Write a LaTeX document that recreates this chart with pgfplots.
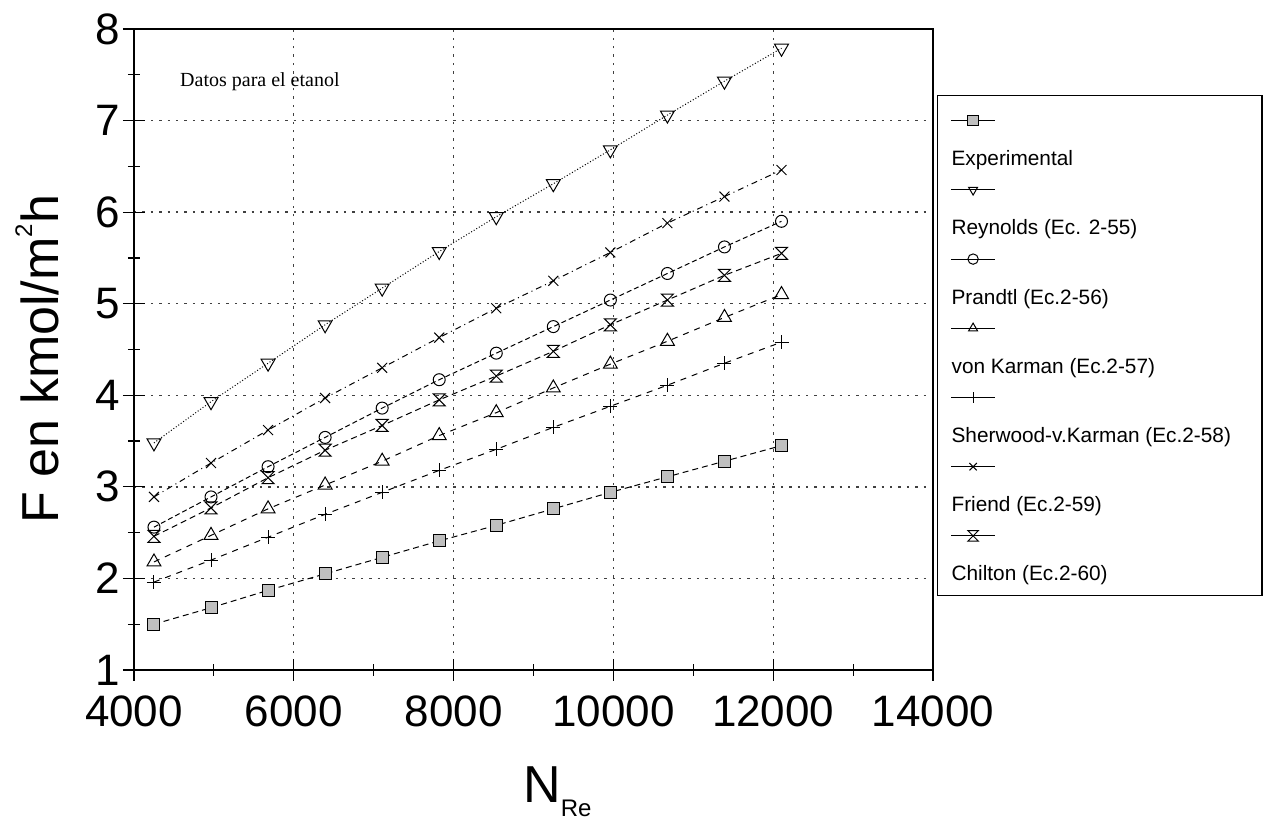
\documentclass[border=0pt]{standalone}
\usepackage{fontspec}
\setmainfont{Liberation Sans}
\newfontfamily\timesfont{Liberation Serif}
\usepackage{pgfplots}
\usepackage{pgfplotstable}
\pgfplotsset{compat=1.18}

% hourglass mark for Chilton
\pgfdeclareplotmark{hourglass}{%
  \pgfpathmoveto{\pgfqpoint{-\pgfplotmarksize}{\pgfplotmarksize}}%
  \pgfpathlineto{\pgfqpoint{\pgfplotmarksize}{\pgfplotmarksize}}%
  \pgfpathlineto{\pgfqpoint{-\pgfplotmarksize}{-\pgfplotmarksize}}%
  \pgfpathlineto{\pgfqpoint{\pgfplotmarksize}{-\pgfplotmarksize}}%
  \pgfpathclose
  \pgfusepathqstroke}

\pgfplotstableread{
x     exp  rey  pra  vk   sh   fr   ch
4250  1.50 3.48 2.56 2.18 1.96 2.89 2.46
4964  1.68 3.93 2.89 2.47 2.20 3.26 2.77
5678  1.87 4.35 3.22 2.76 2.45 3.62 3.10
6392  2.05 4.77 3.54 3.02 2.70 3.97 3.40
7106  2.23 5.17 3.86 3.28 2.94 4.30 3.67
7820  2.41 5.57 4.17 3.56 3.18 4.63 3.95
8534  2.58 5.95 4.46 3.81 3.41 4.95 4.21
9248  2.76 6.31 4.75 4.08 3.65 5.25 4.48
9962  2.94 6.68 5.04 4.34 3.88 5.56 4.77
10676 3.11 7.06 5.33 4.59 4.11 5.88 5.04
11390 3.28 7.43 5.62 4.85 4.35 6.17 5.31
12104 3.45 7.79 5.90 5.10 4.58 6.46 5.55
}\etanol

\tikzset{
  sExp/.style={black, line width=0.5pt, densely dashed, mark=square*, mark size=3pt, mark options={solid, fill=gray!50}},
  sRey/.style={black, line width=0.5pt, densely dotted, mark=triangle, mark size=4pt, mark options={solid, rotate=180}},
  sPra/.style={black, line width=0.5pt, dash pattern=on 2.5pt off 1.5pt, mark=o, mark size=3pt, mark options={solid}},
  sVK/.style={black, line width=0.5pt, dashed, mark=triangle, mark size=4pt, mark options={solid}},
  sSh/.style={black, line width=0.5pt, dashed, mark=+, mark size=3.5pt, mark options={solid}},
  sFr/.style={black, line width=0.5pt, dash dot, mark=x, mark size=3.5pt, mark options={solid}},
  sCh/.style={black, line width=0.5pt, densely dashed, mark=hourglass, mark size=3pt, mark options={solid}},
}
\newcommand{\legtext}[1]{\hspace*{-22pt}\raisebox{-2.5pt}{#1}}

\begin{document}
\begin{tikzpicture}
\begin{axis}[
  scale only axis, width=399.5pt, height=320.5pt,
  xmin=4000, xmax=14000, ymin=1, ymax=8,
  xtick={4000,6000,...,14000}, ytick={1,2,...,8},
  minor x tick num=1, minor y tick num=1,
  scaled x ticks=false,
  /pgf/number format/1000 sep={},
  /pgf/number format/assume math mode=true,
  xtick pos=left, ytick pos=left,
  tick align=center,
  major tick length=11pt, minor tick length=6pt,
  tick style={black, line width=0.6pt},
  axis line style={black, line width=0.7pt},
  grid=major,
  grid style={black!75, line width=0.7pt, dash pattern=on 1.2pt off 3pt},
  ticklabel style={font=\fontsize{22}{24}\selectfont},
  xticklabel style={yshift=-4pt},
  yticklabel style={xshift=2pt},
  xlabel={N\raisebox{-0.5ex}{\fontsize{12}{12}\selectfont Re}},
  ylabel={F en kmol/m\raisebox{0.95ex}{\fontsize{12}{12}\selectfont 2}h},
  every axis x label/.style={at={(axis description cs:0.53,0)}, anchor=center, yshift=-61pt, font=\fontsize{26}{28}\selectfont},
  every axis y label/.style={at={(axis description cs:-0.1214,0.485)}, anchor=center, rotate=90, font=\fontsize{26}{28}\selectfont},
  legend style={at={(1,1)}, anchor=north west, xshift=2pt, yshift=-33pt,
    draw=black, line width=0.6pt, inner xsep=6.5pt, inner ysep=7.8pt,
    font=\fontsize{10.4}{12}\selectfont, row sep=7.8pt,
    cells={anchor=west},
    nodes={inner sep=0pt, text height=7.5pt, text depth=2pt}},
  legend image code/.code={\draw[mark repeat=2,mark phase=2,#1] plot coordinates {(0pt,0pt)(11pt,0pt)(22pt,0pt)};},
  legend image post style={solid, mark size=2.6pt},
]
\addplot[sExp, forget plot] table[x=x, y=exp] {\etanol};
\addplot[sRey, forget plot] table[x=x, y=rey] {\etanol};
\addplot[sPra, forget plot] table[x=x, y=pra] {\etanol};
\addplot[sVK,  forget plot] table[x=x, y=vk]  {\etanol};
\addplot[sSh,  forget plot] table[x=x, y=sh]  {\etanol};
\addplot[sFr,  forget plot] table[x=x, y=fr]  {\etanol};
\addplot[sCh,  forget plot] table[x=x, y=ch]  {\etanol};

\addlegendimage{sExp}\addlegendentry{\mbox{}}
\addlegendimage{empty legend}\addlegendentry{\legtext{Experimental}}
\addlegendimage{sRey}\addlegendentry{\mbox{}}
\addlegendimage{empty legend}\addlegendentry{\legtext{Reynolds (Ec. 2-55)}}
\addlegendimage{sPra}\addlegendentry{\mbox{}}
\addlegendimage{empty legend}\addlegendentry{\legtext{Prandtl (Ec.2-56)}}
\addlegendimage{sVK}\addlegendentry{\mbox{}}
\addlegendimage{empty legend}\addlegendentry{\legtext{von Karman (Ec.2-57)}}
\addlegendimage{sSh}\addlegendentry{\mbox{}}
\addlegendimage{empty legend}\addlegendentry{\legtext{Sherwood-v.Karman (Ec.2-58)}\hspace*{9pt}}
\addlegendimage{sFr}\addlegendentry{\mbox{}}
\addlegendimage{empty legend}\addlegendentry{\legtext{Friend (Ec.2-59)}}
\addlegendimage{sCh}\addlegendentry{\mbox{}}
\addlegendimage{empty legend}\addlegendentry{\legtext{Chilton (Ec.2-60)}}

\node[anchor=west, font=\timesfont\fontsize{10}{12}\selectfont] at (axis cs:4490,7.42) {Datos para el etanol};
\end{axis}
\pgfresetboundingbox
\path (-67pt,-76.5pt) rectangle (567.5pt,335pt);
\end{tikzpicture}
\end{document}
